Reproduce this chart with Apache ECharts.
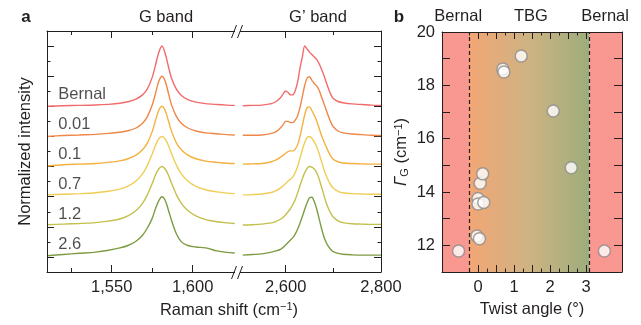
<!DOCTYPE html>
<html><head><meta charset="utf-8">
<script src="https://cdn.jsdelivr.net/npm/echarts@6/dist/echarts.min.js"></script>
<style>
html,body{margin:0;padding:0;background:#fff}
#wrap{position:relative;width:641px;height:325px}
#c,#f{position:absolute;left:0;top:0;width:641px;height:325px}
#f{pointer-events:none}
</style>
</head><body><div id="wrap"><div id="c"></div><div id="f"></div></div>
<script>
// ---------------- data ----------------
const curveNames = ['Bernal', '0.01', '0.1', '0.7', '1.2', '2.6'];
const curveOffsets = [2.5, 2, 1.5, 1, 0.5, 0];

// G band (cm-1) and normalized intensities
const gX = [1510, 1520, 1530, 1540, 1548, 1555, 1560, 1565, 1569, 1572, 1575, 1577, 1579, 1581, 1583, 1585, 1587, 1590, 1593, 1597, 1602, 1608, 1615, 1621, 1626];
const gBernal = [0.00, 0.01, 0.015, 0.022, 0.033, 0.05, 0.075, 0.12, 0.19, 0.29, 0.48, 0.68, 0.89, 1.0, 0.88, 0.66, 0.46, 0.28, 0.18, 0.11, 0.07, 0.045, 0.03, 0.02, 0.015];
const g001 = [0.00, 0.015, 0.025, 0.035, 0.05, 0.07, 0.095, 0.14, 0.22, 0.33, 0.52, 0.71, 0.91, 1.0, 0.92, 0.72, 0.52, 0.33, 0.22, 0.14, 0.09, 0.06, 0.045, 0.03, 0.025];
const g01 = [0.01, 0.03, 0.04, 0.05, 0.07, 0.095, 0.13, 0.19, 0.28, 0.39, 0.58, 0.76, 0.93, 1.0, 0.93, 0.76, 0.58, 0.39, 0.28, 0.19, 0.13, 0.09, 0.07, 0.055, 0.05];
const g07 = [0.03, 0.04, 0.05, 0.065, 0.09, 0.125, 0.175, 0.26, 0.38, 0.52, 0.71, 0.85, 0.96, 1.0, 0.96, 0.85, 0.71, 0.52, 0.38, 0.26, 0.17, 0.115, 0.08, 0.06, 0.05];
const g12 = [0.035, 0.045, 0.055, 0.07, 0.095, 0.13, 0.18, 0.27, 0.39, 0.53, 0.72, 0.86, 0.96, 1.0, 0.96, 0.86, 0.72, 0.53, 0.39, 0.27, 0.18, 0.12, 0.085, 0.065, 0.055];
const g26 = [0.02, 0.04, 0.06, 0.08, 0.11, 0.15, 0.19, 0.26, 0.36, 0.48, 0.64, 0.80, 0.93, 1.0, 0.94, 0.78, 0.60, 0.38, 0.25, 0.19, 0.165, 0.15, 0.10, 0.075, 0.065];

// G' band (cm-1) and normalized intensities
const gpX = [2510, 2530, 2550, 2570, 2580, 2590, 2595, 2600, 2605, 2610, 2615, 2620, 2625, 2630, 2635, 2640, 2645, 2650, 2655, 2660, 2665, 2670, 2675, 2680, 2685, 2690, 2695, 2700, 2710, 2720, 2740, 2760, 2780, 2800];
const gpBernal = [0.01, 0.015, 0.02, 0.045, 0.08, 0.15, 0.21, 0.255, 0.23, 0.19, 0.19, 0.26, 0.40, 0.63, 0.82, 1.0, 0.95, 0.90, 0.86, 0.82, 0.78, 0.71, 0.62, 0.52, 0.40, 0.29, 0.19, 0.13, 0.08, 0.06, 0.04, 0.03, 0.02, 0.015];
const gp001 = [0.02, 0.02, 0.025, 0.05, 0.08, 0.15, 0.2, 0.25, 0.25, 0.23, 0.23, 0.27, 0.34, 0.48, 0.66, 0.85, 0.97, 0.99, 0.93, 0.88, 0.84, 0.77, 0.66, 0.55, 0.44, 0.33, 0.23, 0.16, 0.09, 0.06, 0.04, 0.03, 0.02, 0.015];
const gp01 = [0.04, 0.045, 0.05, 0.08, 0.11, 0.16, 0.19, 0.22, 0.25, 0.26, 0.26, 0.29, 0.36, 0.50, 0.68, 0.86, 0.98, 0.99, 0.93, 0.85, 0.76, 0.64, 0.52, 0.42, 0.33, 0.24, 0.17, 0.12, 0.08, 0.06, 0.05, 0.045, 0.04, 0.04];
const gp07 = [0.03, 0.035, 0.045, 0.07, 0.1, 0.15, 0.18, 0.22, 0.26, 0.29, 0.33, 0.4, 0.5, 0.64, 0.78, 0.9, 0.98, 1.0, 0.97, 0.91, 0.83, 0.72, 0.59, 0.46, 0.35, 0.26, 0.19, 0.14, 0.09, 0.065, 0.05, 0.045, 0.04, 0.04];
const gp12 = [0.03, 0.035, 0.045, 0.065, 0.09, 0.13, 0.16, 0.2, 0.25, 0.3, 0.37, 0.45, 0.56, 0.68, 0.8, 0.9, 0.97, 1.0, 0.99, 0.96, 0.9, 0.8, 0.67, 0.53, 0.4, 0.3, 0.22, 0.16, 0.1, 0.07, 0.05, 0.045, 0.04, 0.04];
const gp26 = [0.03, 0.04, 0.05, 0.08, 0.10, 0.13, 0.16, 0.2, 0.24, 0.28, 0.32, 0.38, 0.46, 0.56, 0.67, 0.79, 0.9, 0.98, 0.99, 0.92, 0.8, 0.64, 0.48, 0.34, 0.24, 0.17, 0.12, 0.09, 0.06, 0.045, 0.035, 0.03, 0.03, 0.03];

// panel a axes
const gRange = [1510, 1628];
const gpRange = [2500, 2800];
const aYRange = [-0.25, 3.75];
const aMajorG = [1550, 1600];
const aMinorG = [1525, 1575];
const aMajorGp = [2600, 2800];
const aMinorGp = [2700];
const aMajorY = [0, 0.5, 1, 1.5, 2, 2.5, 3, 3.5];
const aMinorY = [0.25, 0.75, 1.25, 1.75, 2.25, 2.75, 3.25];

// panel b
const twistAngle = [-0.54, -0.03, 0.04, 0.0, 0.0, 0.16, 0.06, 0.13, 0.69, 0.72, 1.2, 2.09, 2.59, 3.51];
const gammaG = [11.79, 12.35, 12.25, 13.76, 13.55, 13.61, 14.33, 14.68, 18.61, 18.5, 19.1, 17.04, 14.91, 11.79];
const bXRange = [-1, 4];
const bYRange = [11, 20];
const tbgRange = [-0.25, 3.1];
const bXMajor = [0, 0.5, 1, 1.5, 2, 2.5, 3];
const bXMinor = [-0.25, 0.25, 0.75, 1.25, 1.75, 2.25, 2.75];
const bXLabels = [0, 1, 2, 3];
const bYTicks = [12, 13, 14, 15, 16, 17, 18, 19];
const bYLabels = [12, 14, 16, 18, 20];
const regionNames = ['Bernal', 'TBG', 'Bernal'];
const regionPos = [-0.55, 1.47, 3.53];

// ---------------- styling ----------------
const INK = '#231f20';
const FF = '"Liberation Sans", Arial, Helvetica, sans-serif';
const FS = 16.5;
const curveColors = ['#f26b6b', '#ef8748', '#f4b13f', '#efcd56', '#c3c04c', '#7d9c42'];
const gBand = [gBernal, g001, g01, g07, g12, g26];
const gpBand = [gpBernal, gp001, gp01, gp07, gp12, gp26];
const labelX = 1516.7, labelDy = 0.2;
const grids = [
  {left: 47, top: 31, width: 191, height: 241},
  {left: 238, top: 31, width: 143, height: 241},
  {left: 442, top: 32, width: 180, height: 240}
];

function ax(o) {
  return Object.assign({type: 'value', splitLine: {show: false}, axisLine: {show: false, onZero: false},
    axisTick: {show: false}, axisLabel: {show: false}}, o);
}
function ticks(vals, len) {
  return {show: true, inside: true, length: len, customValues: vals, lineStyle: {color: INK, width: 1}};
}
const fmtComma = v => String(v).replace(/\B(?=(\d{3})+(?!\d))/g, ',');
function lab(vals, fmt, margin) {
  return {show: true, customValues: vals, margin: margin, color: INK, fontSize: FS, fontFamily: FF, formatter: fmt};
}

const xAxis = [
  // grid 0 (G band)
  ax({gridIndex: 0, position: 'bottom', min: gRange[0], max: gRange[1], axisTick: ticks(aMajorG, 7), axisLabel: lab(aMajorG, fmtComma, 7)}),
  ax({gridIndex: 0, position: 'bottom', min: gRange[0], max: gRange[1], axisTick: ticks(aMinorG, 4)}),
  ax({gridIndex: 0, position: 'top', min: gRange[0], max: gRange[1], axisTick: ticks(aMajorG, 7)}),
  ax({gridIndex: 0, position: 'top', min: gRange[0], max: gRange[1], axisTick: ticks(aMinorG, 4)}),
  // grid 1 (G' band)
  ax({gridIndex: 1, position: 'bottom', min: gpRange[0], max: gpRange[1], axisTick: ticks(aMajorGp, 7), axisLabel: lab(aMajorGp, fmtComma, 7)}),
  ax({gridIndex: 1, position: 'bottom', min: gpRange[0], max: gpRange[1], axisTick: ticks(aMinorGp, 4)}),
  ax({gridIndex: 1, position: 'top', min: gpRange[0], max: gpRange[1], axisTick: ticks(aMajorGp, 7)}),
  ax({gridIndex: 1, position: 'top', min: gpRange[0], max: gpRange[1], axisTick: ticks(aMinorGp, 4)}),
  // grid 2 (panel b)
  ax({gridIndex: 2, position: 'bottom', min: bXRange[0], max: bXRange[1], z: 3, axisTick: ticks(bXMajor, 7),
      axisLabel: lab(bXLabels, v => String(v), 7),
      name: 'Twist angle (°)', nameLocation: 'middle', nameGap: 28, nameTextStyle: {color: INK, fontSize: FS, fontFamily: FF}}),
  ax({gridIndex: 2, position: 'bottom', min: bXRange[0], max: bXRange[1], z: 3, axisTick: ticks(bXMinor, 3.5)}),
  ax({gridIndex: 2, position: 'top', min: bXRange[0], max: bXRange[1], z: 3, axisTick: ticks(bXMajor, 7),
      axisLabel: lab(regionPos, v => regionNames[regionPos.indexOf(v)], 7)}),
  ax({gridIndex: 2, position: 'top', min: bXRange[0], max: bXRange[1], z: 3, axisTick: ticks(bXMinor, 3.5)})
];

const yAxis = [
  ax({gridIndex: 0, position: 'left', min: aYRange[0], max: aYRange[1], axisTick: ticks(aMajorY, 7),
      name: 'Normalized intensity', nameLocation: 'middle', nameGap: 13, nameTextStyle: {color: INK, fontSize: FS, fontFamily: FF}}),
  ax({gridIndex: 0, position: 'left', min: aYRange[0], max: aYRange[1], axisTick: ticks(aMinorY, 3.5)}),
  ax({gridIndex: 1, position: 'right', min: aYRange[0], max: aYRange[1], axisTick: ticks(aMajorY, 7)}),
  ax({gridIndex: 1, position: 'right', min: aYRange[0], max: aYRange[1], axisTick: ticks(aMinorY, 3.5)}),
  ax({gridIndex: 2, position: 'left', min: bYRange[0], max: bYRange[1], z: 3, axisTick: ticks(bYTicks, 8),
      axisLabel: lab(bYLabels, v => String(v), 7),
      name: '{i|Γ}{s|G}{n| (cm}{p|−1}{n|)}', nameLocation: 'middle', nameGap: 32,
      nameTextStyle: {color: INK, fontSize: FS, fontFamily: FF, rich: {
        i: {fontSize: FS, fontFamily: FF, fontStyle: 'italic', color: INK},
        s: {fontSize: 11, fontFamily: FF, color: INK, verticalAlign: 'bottom'},
        n: {fontSize: FS, fontFamily: FF, color: INK},
        p: {fontSize: 11, fontFamily: FF, color: INK, verticalAlign: 'top'}}}}),
  ax({gridIndex: 2, position: 'right', min: bYRange[0], max: bYRange[1], z: 3, axisTick: ticks(bYTicks, 8)})
];

const series = [];
curveNames.forEach((name, i) => {
  series.push({type: 'line', name: name, xAxisIndex: 0, yAxisIndex: 0, symbol: 'none', smooth: 0.3, silent: true,
    data: gX.map((x, j) => [x, gBand[i][j] + curveOffsets[i]]),
    lineStyle: {color: curveColors[i], width: 1.4}, z: 2});
  series.push({type: 'line', name: name + "'", xAxisIndex: 4, yAxisIndex: 2, symbol: 'none', smooth: 0.3, silent: true,
    data: gpX.map((x, j) => [x, gpBand[i][j] + curveOffsets[i]]),
    lineStyle: {color: curveColors[i], width: 1.4}, z: 2});
});
series.push({type: 'scatter', xAxisIndex: 0, yAxisIndex: 0, symbolSize: 1, silent: true,
  itemStyle: {color: 'transparent'},
  data: curveNames.map((n, i) => ({name: n, value: [labelX, curveOffsets[i] + labelDy]})),
  label: {show: true, position: 'right', distance: 0, formatter: '{b}', color: INK, fontSize: FS, fontFamily: FF}, z: 3});

const redZone = '#f99891';
const tbgGrad = {type: 'linear', x: 0, y: 0, x2: 1, y2: 0, colorStops: [
  {offset: 0, color: '#f3a675'}, {offset: 0.5, color: '#ceb383'}, {offset: 1, color: '#9dad7b'}]};
series.push({type: 'line', xAxisIndex: 8, yAxisIndex: 4, data: [], silent: true,
  markArea: {silent: true, data: [
    [{xAxis: bXRange[0], yAxis: bYRange[0], itemStyle: {color: redZone}}, {xAxis: tbgRange[0], yAxis: bYRange[1]}],
    [{xAxis: tbgRange[0], yAxis: bYRange[0], itemStyle: {color: tbgGrad}}, {xAxis: tbgRange[1], yAxis: bYRange[1]}],
    [{xAxis: tbgRange[1], yAxis: bYRange[0], itemStyle: {color: redZone}}, {xAxis: bXRange[1], yAxis: bYRange[1]}]
  ]},
  markLine: {silent: true, symbol: ['none', 'none'], label: {show: false},
    lineStyle: {type: [4, 3], color: INK, width: 1.2},
    data: [{xAxis: tbgRange[0]}, {xAxis: tbgRange[1]}]}
});
series.push({type: 'scatter', xAxisIndex: 8, yAxisIndex: 4, symbolSize: 12, silent: true,
  data: twistAngle.map((t, i) => [t, gammaG[i]]),
  itemStyle: {color: '#ffffff', borderColor: '#8c8c8c', borderWidth: 1.5}, z: 6});

function txt(text, x, y, font, extra) {
  return {type: 'text', z: 100, style: Object.assign({text: text, x: x, y: y, fill: INK, font: font,
    textAlign: 'center', textVerticalAlign: 'middle', align: 'center', verticalAlign: 'middle'}, extra || {})};
}

const chart = echarts.init(document.getElementById('c'), null, {renderer: 'canvas'});
chart.setOption({
  animation: false,
  backgroundColor: '#ffffff',
  textStyle: {fontFamily: FF},
  grid: grids,
  xAxis: xAxis,
  yAxis: yAxis,
  series: series,
  graphic: {elements: [
    txt('a', 26, 17, 'bold 17px ' + FF),
    txt('b', 399, 17, 'bold 17px ' + FF),
    txt('G band', 166, 17, FS + 'px ' + FF),
    txt('G’ band', 318, 17, FS + 'px ' + FF),
    txt('{n|Raman shift (cm}{p|−1}{n|)}', 229, 310, FS + 'px ' + FF, {rich: {
      n: {fontSize: FS, fontFamily: FF, fill: INK},
      p: {fontSize: 11, fontFamily: FF, fill: INK, verticalAlign: 'top'}}})
  ]}
});

// ---- plot frames: a second, transparent ECharts layer with the same grids ----
function frameAxis(gridIndex, position, range) {
  return {type: 'value', gridIndex: gridIndex, position: position, min: range[0], max: range[1],
    axisLine: {show: true, onZero: false, lineStyle: {color: INK, width: 1}},
    axisTick: {show: false}, axisLabel: {show: false}, splitLine: {show: false}};
}
const frameChart = echarts.init(document.getElementById('f'), null, {renderer: 'canvas'});
frameChart.setOption({
  animation: false,
  backgroundColor: 'transparent',
  grid: grids,
  xAxis: [
    frameAxis(0, 'bottom', gRange), frameAxis(0, 'top', gRange),
    frameAxis(1, 'bottom', gpRange), frameAxis(1, 'top', gpRange),
    frameAxis(2, 'bottom', bXRange), frameAxis(2, 'top', bXRange)
  ],
  yAxis: [
    frameAxis(0, 'left', aYRange),
    frameAxis(1, 'right', aYRange),
    frameAxis(2, 'left', bYRange), frameAxis(2, 'right', bYRange)
  ],
  series: [
    {type: 'line', xAxisIndex: 0, yAxisIndex: 0, data: [], silent: true},
    {type: 'line', xAxisIndex: 2, yAxisIndex: 1, data: [], silent: true},
    {type: 'line', xAxisIndex: 4, yAxisIndex: 2, data: [], silent: true}
  ]
});

// axis break marks (//) between the two parts of panel a
const r0 = frameChart.getModel().getComponent('grid', 0).coordinateSystem.getRect();
const bx = r0.x + r0.width;
const breakEls = [];
[r0.y + 0.5, r0.y + r0.height + 0.5].forEach(yy => {
  const h = 6.5;
  breakEls.push({type: 'rect', z: 10, shape: {x: bx - 3, y: yy - 4, width: 5, height: 8}, style: {fill: '#ffffff'}});
  breakEls.push({type: 'line', z: 11, shape: {x1: bx - 6.5, y1: yy + h, x2: bx - 1.5, y2: yy - h}, style: {stroke: INK, lineWidth: 1}});
  breakEls.push({type: 'line', z: 11, shape: {x1: bx - 0.5, y1: yy + h, x2: bx + 4.5, y2: yy - h}, style: {stroke: INK, lineWidth: 1}});
});
frameChart.setOption({graphic: {elements: breakEls}});
</script>
</body></html>
